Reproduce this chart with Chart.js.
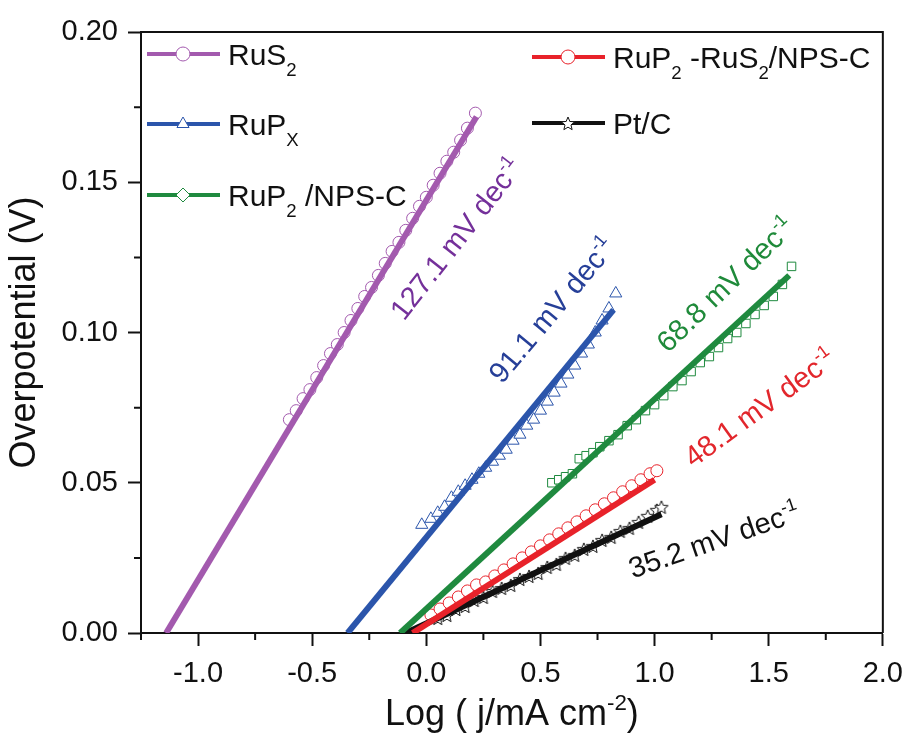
<!DOCTYPE html>
<html>
<head>
<meta charset="utf-8">
<script src="https://cdn.jsdelivr.net/npm/chart.js@4.4.1/dist/chart.umd.min.js"></script>
<style>
    html, body { margin: 0; padding: 0; background: #fff; }
    #wrap { width: 914px; height: 735px; }
</style>
</head>
<body>
<div id="wrap"><canvas id="tafelChart" width="914" height="735"></canvas></div>
<script>
// series names, _{} = subscript, ^{} = superscript
const seriesNames = ['RuS_{2}', 'RuP_{X}', 'RuP_{2} /NPS-C', 'RuP_{2} -RuS_{2}/NPS-C', 'Pt/C'];
const tafelSlopes = ['127.1', '91.1', '68.8', '48.1', '35.2'];

const rus2X = [-0.60, -0.57, -0.54, -0.51, -0.48, -0.45, -0.42, -0.39, -0.36, -0.33, -0.30, -0.27, -0.24, -0.21, -0.18,
    -0.15, -0.12, -0.09, -0.06, -0.03, 0.00, 0.03, 0.06, 0.09, 0.12, 0.15, 0.18, 0.215];
const rus2Y = [0.071, 0.074, 0.078, 0.081, 0.085, 0.089, 0.093, 0.096, 0.100, 0.104, 0.108, 0.112, 0.115, 0.119, 0.123,
    0.127, 0.130, 0.134, 0.138, 0.142, 0.145, 0.149, 0.153, 0.157, 0.160, 0.164, 0.168, 0.173];

const rupxX = [-0.02, 0.02, 0.05, 0.08, 0.11, 0.14, 0.17, 0.20, 0.23, 0.26, 0.29, 0.32, 0.35, 0.38, 0.41, 0.44, 0.47,
    0.50, 0.53, 0.56, 0.59, 0.62, 0.65, 0.68, 0.71, 0.74, 0.77, 0.80, 0.83];
const rupxY = [0.036, 0.038, 0.040, 0.042, 0.045, 0.047, 0.049, 0.051, 0.053, 0.055, 0.057, 0.059, 0.061, 0.064, 0.066,
    0.069, 0.071, 0.074, 0.077, 0.080, 0.083, 0.086, 0.089, 0.093, 0.096, 0.100, 0.104, 0.108, 0.113];

const rup2X = [0.55, 0.58, 0.61, 0.64, 0.67, 0.70, 0.73, 0.76, 0.80, 0.84, 0.88, 0.92, 0.96, 1.00, 1.04, 1.08, 1.12,
    1.16, 1.20, 1.24, 1.28, 1.32, 1.36, 1.40, 1.44, 1.48, 1.52, 1.56, 1.60];
const rup2Y = [0.050, 0.051, 0.052, 0.053, 0.058, 0.059, 0.060, 0.062, 0.064, 0.066, 0.069, 0.071, 0.074, 0.076, 0.079,
    0.082, 0.084, 0.087, 0.090, 0.092, 0.095, 0.098, 0.100, 0.103, 0.106, 0.109, 0.112, 0.116, 0.122];

const hybX = [0.02, 0.06, 0.10, 0.14, 0.18, 0.22, 0.26, 0.30, 0.34, 0.38, 0.42, 0.46, 0.50, 0.54, 0.58, 0.62, 0.66,
    0.70, 0.74, 0.78, 0.82, 0.86, 0.90, 0.94, 0.98, 1.01];
const hybY = [0.006, 0.008, 0.010, 0.012, 0.014, 0.016, 0.017, 0.019, 0.021, 0.023, 0.025, 0.027, 0.029, 0.031, 0.033,
    0.035, 0.037, 0.039, 0.041, 0.043, 0.045, 0.047, 0.049, 0.051, 0.053, 0.054];

const ptcX = [0.05, 0.09, 0.13, 0.17, 0.21, 0.25, 0.29, 0.33, 0.37, 0.41, 0.45, 0.49, 0.53, 0.57, 0.61, 0.65, 0.69,
    0.73, 0.77, 0.81, 0.85, 0.89, 0.93, 0.97, 1.01, 1.03];
const ptcY = [0.005, 0.006, 0.008, 0.009, 0.011, 0.012, 0.014, 0.015, 0.016, 0.018, 0.019, 0.020, 0.022, 0.023, 0.025,
    0.026, 0.028, 0.029, 0.031, 0.032, 0.034, 0.035, 0.037, 0.039, 0.041, 0.042];

// fitted lines, end points
const rus2FitX = [-1.14, 0.22];  const rus2FitY = [0, 0.1718];
const rupxFitX = [-0.345, 0.82]; const rupxFitY = [0, 0.1075];
const rup2FitX = [-0.115, 1.59]; const rup2FitY = [0, 0.119];
const hybFitX = [-0.06, 1.0];    const hybFitY = [0, 0.051];
const ptcFitX = [-0.09, 1.03];   const ptcFitY = [0, 0.0395];

// axis ticks
const xTicks = [-1.0, -0.5, 0.0, 0.5, 1.0, 1.5, 2.0];
const xMinorTicks = [-1.25, -0.75, -0.25, 0.25, 0.75, 1.25, 1.75];
const yTicks = [0, 0.05, 0.10, 0.15, 0.20];
const yMinorTicks = [0.025, 0.075, 0.125, 0.175];

const FONT = "'Liberation Sans', Arial, sans-serif";
const lineColors = ['#a35aae', '#2b55ab', '#1f8a3f', '#e8222a', '#111111'];
const textColors = ['#74309a', '#263f98', '#1f8a3a', '#e2262c', '#111111'];

function pts(xs, ys) {
    return xs.map((x, i) => ({ x: x, y: ys[i] }));
}

// open five-point star used as Pt/C marker
function makeStar(r) {
    const c = document.createElement('canvas');
    const s = Math.ceil(r * 2 + 4);
    c.width = s; c.height = s;
    const g = c.getContext('2d');
    g.translate(s / 2, s / 2 + 1);
    g.beginPath();
    for (let i = 0; i < 10; i++) {
        const a = -Math.PI / 2 + i * Math.PI / 5;
        const rr = i % 2 ? r * 0.45 : r;
        g.lineTo(rr * Math.cos(a), rr * Math.sin(a));
    }
    g.closePath();
    g.fillStyle = '#fff'; g.fill();
    g.strokeStyle = '#111'; g.lineWidth = 1; g.stroke();
    return c;
}
const starImg = makeStar(7);

function parseRich(str) {
    const parts = [];
    const re = /([_^])\{([^}]*)\}/g;
    let last = 0, m;
    while ((m = re.exec(str))) {
        if (m.index > last) parts.push({ t: str.slice(last, m.index), mode: 0 });
        parts.push({ t: m[2], mode: m[1] === '_' ? 1 : 2 });
        last = re.lastIndex;
    }
    if (last < str.length) parts.push({ t: str.slice(last), mode: 0 });
    return parts;
}

// y is the baseline
function drawRich(ctx, str, x, y, size, align) {
    const parts = parseRich(str);
    let w = 0;
    parts.forEach(p => {
        ctx.font = (p.mode ? size * 0.62 : size) + 'px ' + FONT;
        p.w = ctx.measureText(p.t).width;
        w += p.w;
    });
    let cx = align === 'center' ? x - w / 2 : x;
    ctx.textAlign = 'left';
    ctx.textBaseline = 'alphabetic';
    parts.forEach(p => {
        ctx.font = (p.mode ? size * 0.62 : size) + 'px ' + FONT;
        const dy = p.mode === 1 ? size * 0.38 : (p.mode === 2 ? -size * 0.42 : 0);
        ctx.fillText(p.t, cx, y + dy);
        cx += p.w;
    });
}

const markerStyles = [
    { pointStyle: 'circle', radius: 6 },
    { pointStyle: 'triangle', radius: 7 },
    { pointStyle: 'rect', radius: 6 },
    { pointStyle: 'circle', radius: 6 },
    { pointStyle: starImg, radius: 7 }
];
const legendMarkers = ['circle', 'triangle', 'rectRot', 'circle', starImg];

// legend slots and slope labels (pixel layout)
const legendSlots = [
    { x: 147, y: 54 }, { x: 147, y: 124 }, { x: 147, y: 195 },
    { x: 532, y: 57 }, { x: 532, y: 123 }
];
const slopeLabelPos = [
    { x: 0.13, y: 0.1312, angle: -52 },
    { x: 0.55, y: 0.1075, angle: -50 },
    { x: 1.31, y: 0.1160, angle: -44 },
    { x: 1.46, y: 0.0750, angle: -36 },
    { x: 1.26, y: 0.0310, angle: -19 }
];

const decorPlugin = {
    id: 'decor',
    afterDraw(chart) {
        const ctx = chart.ctx;
        const a = chart.chartArea;
        const xs = chart.scales.x, ys = chart.scales.y;
        ctx.save();
        // frame top and right
        ctx.strokeStyle = '#111';
        ctx.lineWidth = 2;
        ctx.beginPath();
        ctx.moveTo(a.left, a.top); ctx.lineTo(a.right, a.top); ctx.lineTo(a.right, a.bottom);
        ctx.stroke();
        // minor ticks
        ctx.beginPath();
        xMinorTicks.forEach(v => {
            const px = xs.getPixelForValue(v);
            ctx.moveTo(px, a.bottom); ctx.lineTo(px, a.bottom + 7);
        });
        yMinorTicks.forEach(v => {
            const py = ys.getPixelForValue(v);
            ctx.moveTo(a.left, py); ctx.lineTo(a.left - 7, py);
        });
        ctx.stroke();

        // legend
        legendSlots.forEach((s, i) => {
            ctx.strokeStyle = lineColors[i];
            ctx.lineWidth = 4;
            ctx.beginPath();
            ctx.moveTo(s.x, s.y); ctx.lineTo(s.x + 73, s.y);
            ctx.stroke();
            ctx.fillStyle = '#fff';
            ctx.strokeStyle = lineColors[i];
            ctx.lineWidth = 1;
            Chart.helpers.drawPoint(ctx, { pointStyle: legendMarkers[i], radius: 7, rotation: 0, borderWidth: 1 },
                s.x + 36, s.y);
            ctx.fillStyle = '#111';
            drawRich(ctx, seriesNames[i], s.x + 81, s.y + 11, 30, 'left');
        });

        // slope labels
        slopeLabelPos.forEach((p, i) => {
            ctx.save();
            ctx.translate(xs.getPixelForValue(p.x), ys.getPixelForValue(p.y));
            ctx.rotate(p.angle * Math.PI / 180);
            ctx.fillStyle = textColors[i];
            drawRich(ctx, tafelSlopes[i] + ' mV dec^{-1}', 0, 10, 29, 'center');
            ctx.restore();
        });

        // x axis title
        ctx.fillStyle = '#111';
        drawRich(ctx, 'Log ( j/mA cm^{-2})', (a.left + a.right) / 2, 725, 36, 'center');
        ctx.restore();
    }
};

const fits = [
    [rus2FitX, rus2FitY], [rupxFitX, rupxFitY], [rup2FitX, rup2FitY], [hybFitX, hybFitY], [ptcFitX, ptcFitY]
];
const measured = [
    [rus2X, rus2Y], [rupxX, rupxY], [rup2X, rup2Y], [hybX, hybY], [ptcX, ptcY]
];

const datasets = [];
measured.forEach((m, i) => {
    datasets.push({
        label: seriesNames[i],
        data: pts(m[0], m[1]),
        showLine: false,
        pointStyle: markerStyles[i].pointStyle,
        pointRadius: markerStyles[i].radius,
        pointBorderWidth: 1,
        pointBorderColor: lineColors[i],
        pointBackgroundColor: '#fff',
        order: 1
    });
});
fits.forEach((f, i) => {
    datasets.push({
        label: seriesNames[i] + ' fit',
        data: pts(f[0], f[1]),
        showLine: true,
        borderColor: lineColors[i],
        borderWidth: 6,
        pointRadius: 0,
        order: 0
    });
});

const ctx = document.getElementById('tafelChart').getContext('2d');
const tafelChart = new Chart(ctx, {
    type: 'scatter',
    data: { datasets: datasets },
    options: {
        responsive: false,
        animation: false,
        layout: { padding: { left: 0, top: 32, right: 26, bottom: 0 } },
        scales: {
            x: {
                type: 'linear',
                min: -1.25,
                max: 2.0,
                afterBuildTicks: (scale) => { scale.ticks = xTicks.map(v => ({ value: v })); },
                afterFit: (scale) => { scale.height = 102; },
                ticks: {
                    color: '#111',
                    padding: 11,
                    font: { family: FONT, size: 29 },
                    callback: (v) => Number(v).toFixed(1)
                },
                grid: { drawOnChartArea: false, drawTicks: true, tickLength: 13, tickColor: '#111', tickWidth: 2 },
                border: { display: true, color: '#111', width: 2 }
            },
            y: {
                type: 'linear',
                min: 0,
                max: 0.2,
                afterBuildTicks: (scale) => { scale.ticks = yTicks.map(v => ({ value: v })); },
                afterFit: (scale) => { scale.width = 141; },
                ticks: {
                    color: '#111',
                    padding: 10,
                    font: { family: FONT, size: 29 },
                    callback: (v) => Number(v).toFixed(2)
                },
                title: {
                    display: true,
                    text: 'Overpotential (V)',
                    color: '#111',
                    font: { family: FONT, size: 36 },
                    padding: { top: 3, bottom: 0 }
                },
                grid: { drawOnChartArea: false, drawTicks: true, tickLength: 13, tickColor: '#111', tickWidth: 2 },
                border: { display: true, color: '#111', width: 2 }
            }
        },
        plugins: {
            legend: { display: false },
            tooltip: { enabled: false }
        }
    },
    plugins: [decorPlugin]
});
</script>
</body>
</html>
